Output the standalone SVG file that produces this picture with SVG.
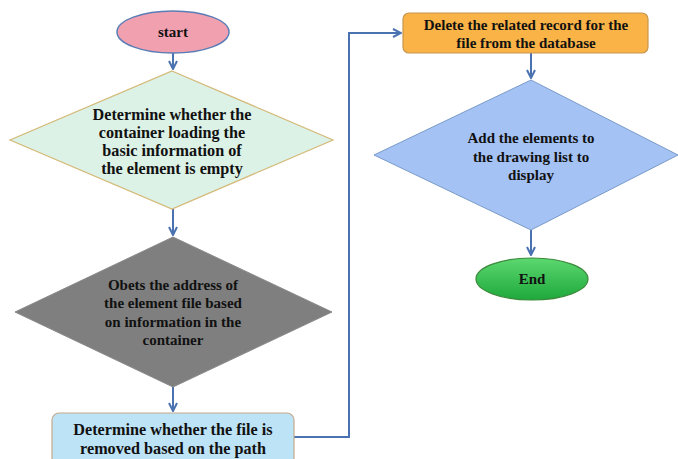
<svg xmlns="http://www.w3.org/2000/svg" width="678" height="459" viewBox="0 0 678 459">
<style>
text{font-family:"Liberation Serif","Times New Roman",serif;font-weight:bold;font-size:15px;fill:#111;text-anchor:middle}
.big{font-size:16.2px}
.c{fill:none;stroke:#4a72b0;stroke-width:2}
</style>
<defs>
<marker id="ah" viewBox="0 0 10 10" refX="9" refY="5" markerWidth="5" markerHeight="5" orient="auto" markerUnits="strokeWidth">
<path d="M1,1 L9,5 L1,9" fill="none" stroke="#4a72b0" stroke-width="2"/>
</marker>
<linearGradient id="gg" x1="0" y1="0" x2="0" y2="1">
<stop offset="0" stop-color="#5cd870"/><stop offset="1" stop-color="#1ea83c"/>
</linearGradient>
</defs>
<rect width="678" height="459" fill="#fff"/>
<g id="connectors">
<path class="c" d="M173,53 V69" marker-end="url(#ah)"/>
<path class="c" d="M173,209 V235" marker-end="url(#ah)"/>
<path class="c" d="M173,387 V411" marker-end="url(#ah)"/>
<path class="c" d="M294,437 H349 V33 H401" marker-end="url(#ah)"/>
<path class="c" d="M531,53 V78" marker-end="url(#ah)"/>
<path class="c" d="M531,230 V255" marker-end="url(#ah)"/>
</g>
<g id="start">
<ellipse cx="173" cy="32" rx="56" ry="21" fill="#f1a0b0" stroke="#5b7db5" stroke-width="1.5"/>
<text x="173" y="37">start</text>
</g>
<g id="check-container">
<polygon points="172,71 333,140 172,209 10,140" fill="#ddf2e6" stroke="#d4b978" stroke-width="1.2"/>
<text class="big" x="172" y="120">Determine whether the</text>
<text class="big" x="172" y="138">container loading the</text>
<text class="big" x="172" y="156">basic information of</text>
<text class="big" x="172" y="174">the element is empty</text>
</g>
<g id="get-address">
<polygon points="173,237 332,312 173,387 15,312" fill="#7f7f7f" stroke="#8a8a8a" stroke-width="1"/>
<text x="173" y="290">Obets the address of</text>
<text x="173" y="308">the element file based</text>
<text x="173" y="327">on information in the</text>
<text x="173" y="345">container</text>
</g>
<g id="check-removed">
<rect x="52" y="413" width="242" height="52" rx="7" fill="#bde3f7" stroke="#c4a98a" stroke-width="1.2"/>
<text class="big" x="173" y="435">Determine whether the file is</text>
<text class="big" x="173" y="454">removed based on the path</text>
</g>
<g id="delete-record">
<rect x="403" y="13" width="245" height="40" rx="6" fill="#f9b347" stroke="#c8964e" stroke-width="1.2"/>
<text x="526" y="30">Delete the related record for the</text>
<text x="526" y="48">file from the database</text>
</g>
<g id="add-elements">
<polygon points="531,80 678,155 531,230 374,155" fill="#a4c2f4" stroke="#7a9bc7" stroke-width="1"/>
<text x="531" y="143">Add the elements to</text>
<text x="531" y="162">the drawing list to</text>
<text x="531" y="180">display</text>
</g>
<g id="end">
<ellipse cx="532" cy="279" rx="56" ry="21" fill="url(#gg)" stroke="#3a8a3a" stroke-width="1.2"/>
<text x="532" y="284">End</text>
</g>
</svg>
